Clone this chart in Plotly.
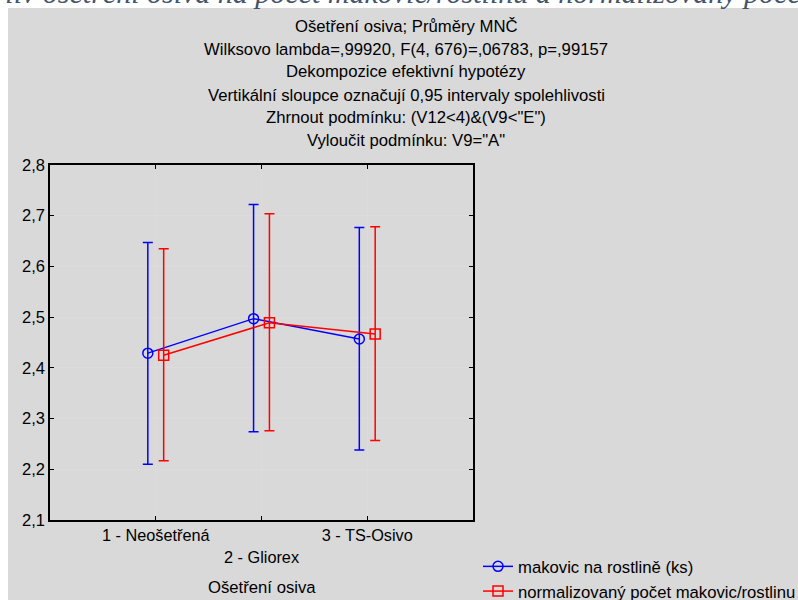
import plotly.graph_objects as go

categories = ["1 - Neošetřená", "2 - Gliorex", "3 - TS-Osivo"]
tick_labels = ["1 - Neošetřená", "<br>2 - Gliorex", "3 - TS-Osivo"]

blue_name = "makovic na rostlině (ks)"
blue_mean = [2.429, 2.497, 2.457]
blue_upper = [2.647, 2.722, 2.677]
blue_lower = [2.210, 2.274, 2.238]

red_name = "normalizovaný počet makovic/rostlinu"
red_mean = [2.425, 2.489, 2.467]
red_upper = [2.635, 2.704, 2.678]
red_lower = [2.217, 2.276, 2.257]

title_lines = [
    "Ošetření osiva; Průměry MNČ",
    "Wilksovo lambda=,99920, F(4, 676)=,06783, p=,99157",
    "Dekompozice efektivní hypotézy",
    "Vertikální sloupce označují 0,95 intervaly spolehlivosti",
    "Zhrnout podmínku: (V12<4)&(V9<\"E\")",
    "Vyloučit podmínku: V9=\"A\"",
]
x_title = "Ošetření osiva"
caption = "Vliv ošetření osiva na počet makovic/rostlinu a normalizovaný počet makovic"

W, H = 798, 600
L, R, T, B = 50, 325, 165, 80
PW, PH = W - L - R, H - T - B

def px(x):
    return (x - L) / PW

def py(y):
    return (H - B - y) / PH

FONT = "Arial, Liberation Sans, sans-serif"
pos = list(range(1, len(categories) + 1))
off = 0.075

fig = go.Figure()

def add_series(name, mean, upper, lower, color, symbol, shift):
    fig.add_trace(go.Scatter(
        x=[p + shift for p in pos],
        y=mean,
        name=name,
        mode="lines+markers",
        line=dict(color=color, width=1.5),
        marker=dict(symbol=symbol, size=10, color=color,
                    line=dict(color=color, width=1.5)),
        error_y=dict(type="data", symmetric=False,
                     array=[u - m for u, m in zip(upper, mean)],
                     arrayminus=[m - l for m, l in zip(mean, lower)],
                     color=color, thickness=1.5, width=5),
    ))

add_series(blue_name, blue_mean, blue_upper, blue_lower, "#0000ff", "circle-open", -off)
add_series(red_name, red_mean, red_upper, red_lower, "#ff0000", "square-open", off)

annotations = []
title_ys = [26, 49, 72, 95, 117.5, 140]
for line, yy in zip(title_lines, title_ys):
    annotations.append(dict(text=line, x=px(406), y=py(yy), xref="paper", yref="paper",
                            xanchor="center", yanchor="middle", showarrow=False,
                            font=dict(family=FONT, size=16.7, color="#000000")))
annotations.append(dict(text=x_title, x=px(262), y=py(587), xref="paper", yref="paper",
                        xanchor="center", yanchor="middle", showarrow=False,
                        font=dict(family=FONT, size=16.7, color="#000000")))
annotations.append(dict(text=caption, x=px(-15), y=py(11), xref="paper", yref="paper",
                        xanchor="left", yanchor="bottom", showarrow=False,
                        font=dict(family="Liberation Serif, DejaVu Serif, serif", size=30,
                                  color="#44546a", style="italic")))

fig.update_layout(
    width=W, height=H,
    margin=dict(l=L, r=R, t=T, b=B, autoexpand=False),
    paper_bgcolor="#ffffff",
    plot_bgcolor="#ffffff",
    separators=", ",
    font=dict(family=FONT, size=16.5, color="#000000"),
    showlegend=True,
    legend=dict(x=px(478), y=py(549), xanchor="left", yanchor="top",
                bgcolor="rgba(0,0,0,0)", font=dict(family=FONT, size=16.7),
                tracegroupgap=0, itemwidth=30),
    annotations=annotations,
    shapes=[dict(type="rect", xref="paper", yref="paper", layer="below",
                 x0=px(8), x1=px(820), y0=py(620), y1=py(8),
                 fillcolor="#d9d9d9", line=dict(width=0))],
)

fig.update_xaxes(
    range=[0, 4], tickvals=pos, ticktext=tick_labels,
    showgrid=True, gridcolor="#dcdcdc", gridwidth=1,
    showline=True, linecolor="#000000", linewidth=1.5, mirror="allticks",
    ticks="inside", ticklen=4, tickcolor="#000000",
    tickfont=dict(family=FONT, size=16.3), zeroline=False,
)
fig.update_yaxes(
    range=[2.1, 2.8], dtick=0.1, tick0=2.1, tickformat=".1f",
    showgrid=True, gridcolor="#dcdcdc", gridwidth=1,
    showline=True, linecolor="#000000", linewidth=1.5, mirror="allticks",
    ticks="inside", ticklen=4, tickcolor="#000000",
    tickfont=dict(family=FONT, size=16.5), zeroline=False,
)

fig.write_html(
    "out.html",
    config={"displayModeBar": False},
    post_script="document.body.style.margin='0';document.body.style.overflow='hidden';",
)
